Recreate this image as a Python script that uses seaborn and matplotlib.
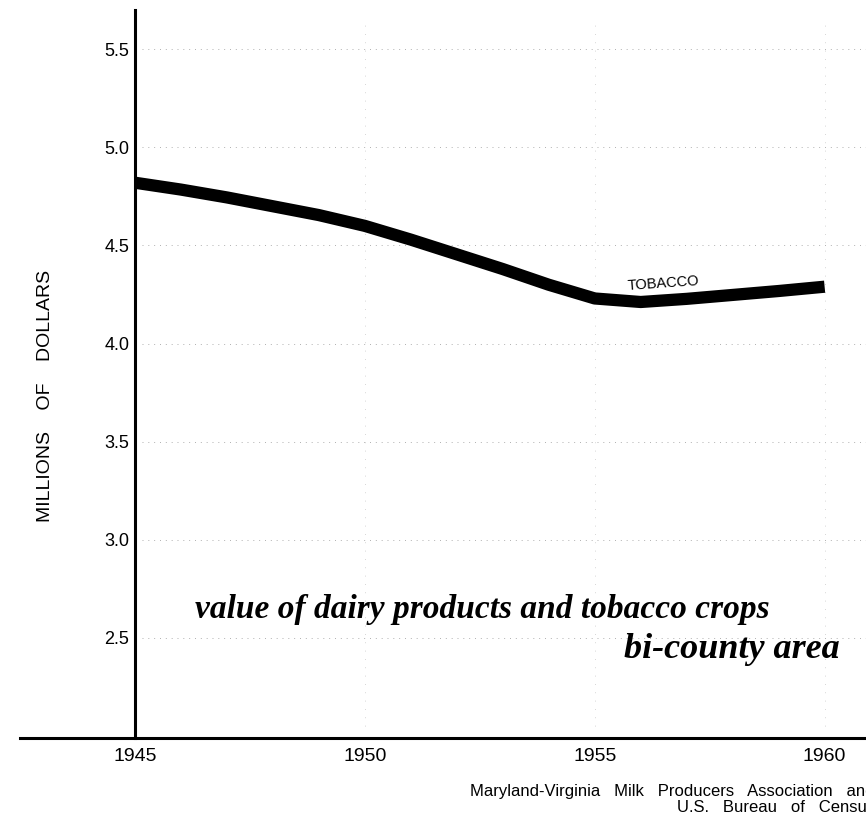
import numpy as np
import pandas as pd
import seaborn as sns
import matplotlib.pyplot as plt

# Tobacco crop value, bi-county area (millions of dollars)
years = [1945, 1946, 1947, 1948, 1949, 1950, 1951, 1952,
         1953, 1954, 1955, 1956, 1957, 1958, 1959, 1960]
tobacco = [4.82, 4.785, 4.745, 4.70, 4.655, 4.60, 4.53, 4.455,
           4.38, 4.30, 4.23, 4.212, 4.228, 4.248, 4.268, 4.29]

y_ticks = [2.5, 3.0, 3.5, 4.0, 4.5, 5.0, 5.5]
x_ticks = [1945, 1950, 1955, 1960]

df = pd.DataFrame({"year": years, "value": tobacco})

sns.set_style("white")
plt.rcParams["font.family"] = ["Liberation Sans Narrow", "Liberation Sans", "DejaVu Sans"]
plt.rcParams["text.color"] = "black"
plt.rcParams["xtick.color"] = "black"
plt.rcParams["ytick.color"] = "black"

fig = plt.figure(figsize=(8.66, 8.22), dpi=100)
ax = fig.add_axes([0.023, 0.1022, 0.977, 0.8856])

# spine position first: it resets the tick setup
for s in ["top", "right"]:
    ax.spines[s].set_visible(False)
ax.spines["left"].set_position(("data", 1945))
for s in ["left", "bottom"]:
    ax.spines[s].set_linewidth(2.2)
    ax.spines[s].set_color("black")

# faint grid, like the scanned dotted rules
for v in y_ticks:
    ax.plot([1945.15, 1961], [v, v], color="#b0b0b0", lw=0.7,
            linestyle=(0, (1, 5)), zorder=1)
for v in x_ticks[1:]:
    ax.plot([v, v], [2.05, 5.65], color="#c8c8c8", lw=0.6,
            linestyle=(0, (1, 9)), zorder=1)

sns.lineplot(data=df, x="year", y="value", ax=ax, color="black", lw=8.8,
             solid_capstyle="butt", solid_joinstyle="round", zorder=3)

ax.set_xlim(1942.5, 1960.9)
ax.set_ylim(1.99, 5.7)
ax.set_xticks(x_ticks)
ax.set_xticklabels([str(x) for x in x_ticks], fontsize=14)
ax.set_yticks(y_ticks)
ax.set_yticklabels([f"{v:.1f}" for v in y_ticks], fontsize=13)
ax.tick_params(axis="y", length=0, pad=4)
ax.tick_params(axis="x", length=0, pad=7)
ax.set_xlabel("")
ax.set_ylabel("")

ax.text(1956.5, 4.308, "TOBACCO", fontsize=10.5, rotation=4,
        ha="center", va="center", family=["Liberation Sans", "DejaVu Sans"])

fig.text(0.052, 0.518, "MILLIONS    OF    DOLLARS", rotation=90, fontsize=14,
         ha="center", va="center")

serif = ["Liberation Serif", "DejaVu Serif"]
fig.text(0.557, 0.259, "value of dairy products and tobacco crops", fontsize=24,
         style="italic", weight="bold", family=serif, ha="center", va="center")
fig.text(0.97, 0.21, "bi-county area", fontsize=26,
         style="italic", weight="bold", family=serif, ha="right", va="center")

fig.text(1.01, 0.008, "Maryland-Virginia   Milk   Producers   Association   and\nU.S.   Bureau   of   Census",
         fontsize=12, ha="right", va="bottom", multialignment="right",
         linespacing=1.1)

fig.savefig("out.png", dpi=100)
